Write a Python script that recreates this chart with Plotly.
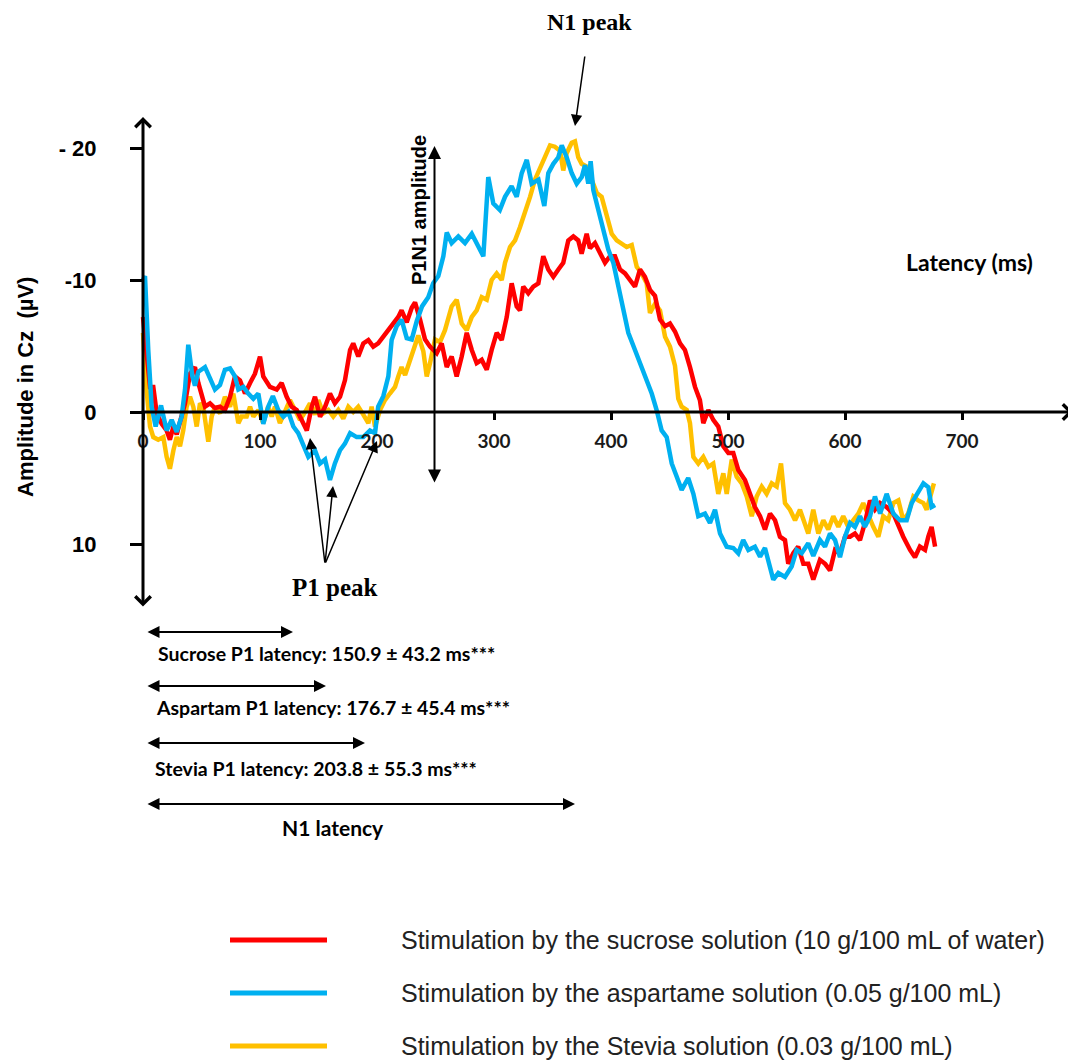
import plotly.graph_objects as go

# ---------------- data ----------------
series_names = [
    "Stimulation by the sucrose solution (10 g/100 mL of water)",
    "Stimulation by the aspartame solution (0.05 g/100 mL)",
    "Stimulation by the Stevia solution (0.03 g/100 mL)",
]
series_colors = ["#FF0000", "#00B0F0", "#FFC000"]

sucrose_t = [0, 3, 6, 8.8, 11.7, 16, 20.2, 23, 26, 28.8, 33, 35.9, 40.2, 44.4, 47.3, 50.1, 53, 57.3, 61.5, 65.8,
             70, 74.4, 78.6, 82.9, 87.2, 91.5, 95.7, 100, 102.8, 108.5, 114.3, 118.5, 122.8, 127, 131.4, 135.6, 140,
             144.2, 147, 151.3, 155.6, 159.8, 164, 168.4, 172.6, 177, 179.7, 184, 188.3, 192.6, 196.8, 201, 205.4,
             209.7, 214, 218.2, 221, 225.4, 229.7, 232.5, 236.8, 241, 245.3, 251, 255.3, 259.6, 263.8, 268.1, 272.4,
             276.7, 281, 285.2, 289.5, 293.8, 298, 302.3, 306.6, 310.9, 315.1, 319.4, 322.2, 325, 329.3, 333.6,
             337.9, 342.1, 346.4, 350.7, 355, 359.2, 363.5, 367.8, 372, 374.9, 379.2, 382, 386.3, 390.6, 394.9,
             399.1, 403.4, 407.7, 412, 416.2, 420.5, 424.8, 429, 433.3, 437.6, 441.9, 446.2, 450.4, 454.7, 459,
             463.2, 467.5, 471.8, 476, 478.9, 483.2, 487.4, 491.7, 496, 500.3, 504.5, 508.8, 514.5, 518.8, 523,
             527.4, 531.6, 535.9, 540.2, 544.4, 548.7, 551.5, 555.8, 560, 564.4, 568.6, 572.9, 578.6, 583, 587.2,
             591.5, 595.7, 600, 604.3, 608.5, 612.8, 617, 621.4, 625.6, 630, 635.6, 641.3, 645.6, 649.8, 655.6,
             659.8, 664, 668.4, 671.2, 674, 677]
sucrose_uv = [-7.2, -4.7, -1.9, -1.9, 0.1, 0.9, 1.4, 2.1, 1.1, 1.7, 0.35, -0.65, -2.9, -3.4, -2.2, -1.4, -0.4, -0.65,
              -0.3, -0.4, -0.15, -1.15, -2.7, -2.4, -1.4, -2.2, -2.9, -4.2, -2.7, -1.9, -1.7, -2.2, -1.15, -0.4,
              -0.15, 0.6, 1.4, -0.4, -1.15, 0.35, -0.4, -1.4, -0.65, -1.15, -2.4, -4.7, -5.2, -4.2, -5.2, -5.45,
              -4.95, -5.2, -5.7, -6.2, -6.7, -7.2, -7.7, -6.8, -7.9, -8.3, -7.0, -5.5, -4.95, -4.45, -5.2, -3.4,
              -4.2, -2.7, -4.2, -6.0, -4.7, -3.7, -3.95, -3.2, -4.7, -6.0, -5.45, -7.2, -9.75, -8.0, -7.7, -9.5,
              -9.0, -9.5, -9.75, -11.8, -10.8, -10.25, -10.8, -11.3, -13.0, -13.3, -13.0, -12.0, -13.5, -12.4,
              -12.8, -12.0, -11.3, -11.8, -11.8, -10.8, -10.5, -10.0, -9.5, -10.8, -10.25, -9.25, -8.8, -7.0, -6.5,
              -6.7, -6.1, -5.2, -4.7, -3.4, -1.9, -0.9, 0.85, -0.15, 0.6, 1.1, 2.6, 3.1, 3.1, 4.4, 5.15, 6.2, 7.2,
              7.9, 8.9, 7.7, 8.2, 9.45, 9.7, 11.5, 10.7, 10.2, 11.5, 11.5, 12.7, 11.2, 11.5, 12.0, 10.45, 10.7,
              9.45, 9.45, 9.2, 9.7, 8.4, 6.7, 7.4, 6.9, 7.2, 7.7, 8.7, 9.45, 10.45, 11.0, 10.2, 10.45, 9.45, 8.7,
              10.2]

aspartame_t = [0, 1.7, 4.5, 7.4, 10.8, 15.4, 20.2, 24.5, 28.8, 33, 35.9, 38.7, 42.2, 44.4, 47.3, 53, 57.3, 61.5,
               65.8, 70, 74.4, 78.6, 81.5, 85.8, 90, 94.3, 98.6, 102.8, 107, 111, 115.6, 120, 124.2, 128.5, 132.7,
               137, 141.3, 147, 151.3, 155.6, 159.8, 164, 168.4, 172.6, 177, 182.6, 188.3, 194, 198.3, 201, 205.4,
               209.7, 212.5, 216.8, 221, 225.4, 229.7, 234, 238.5, 243.8, 248, 252.4, 256.7, 259.6, 263.8, 269.5,
               275.2, 281, 285.2, 290.9, 295.1, 299.4, 305, 309.4, 315, 319.4, 323.7, 328, 332.2, 338, 343, 346.4,
               350.7, 355, 357.9, 362.1, 366.4, 370.7, 375, 377.8, 380.6, 382.6, 384.9, 389.2, 393.4, 397.7, 402,
               406.3, 410.5, 414.8, 420.5, 424.8, 430.5, 434.8, 439, 443.3, 447.6, 451.9, 456.2, 460.4, 466, 470.4,
               474.6, 480.3, 484.6, 488.9, 493.2, 498.9, 504.5, 508.8, 513, 517.4, 523, 527.4, 531.6, 535.9, 538.7,
               543, 548.7, 554.4, 558.7, 563, 568.6, 572.9, 578.6, 582.9, 587.2, 591.5, 595.7, 600, 604.3, 608.5,
               612.8, 617, 621.4, 625.6, 630, 635.6, 641.3, 647, 652.7, 657, 661.3, 667, 671.2, 674, 677]
aspartame_uv = [-10.0, -10.3, -4.7, -0.4, 1.1, -0.5, 1.4, 0.6, 1.5, 0.35, -1.7, -5.1, -2.7, -2.0, -3.05, -3.4, -2.55,
                -1.7, -2.05, -3.2, -3.3, -2.7, -1.7, -1.9, -1.4, -1.0, -1.4, 0.9, -0.4, -1.2, -0.15, 0.35, 0, 1.1,
                1.6, 2.6, 3.4, 2.9, 3.9, 3.6, 5.15, 3.9, 2.9, 2.4, 1.6, 1.9, 1.9, 1.4, 1.6, -0.4, -1.2, -2.7, -5.45,
                -6.5, -7.0, -5.6, -5.5, -6.9, -8.0, -8.7, -9.75, -10.3, -11.8, -13.6, -12.8, -13.3, -12.8, -13.5,
                -12.8, -11.8, -17.8, -15.8, -15.3, -16.3, -17.1, -16.3, -18.1, -19.1, -17.3, -17.6, -15.6, -18.1,
                -18.8, -19.3, -20.2, -19.3, -18.1, -17.3, -17.8, -18.7, -17.3, -19.0, -16.8, -15.3, -14.0, -12.3,
                -11.3, -9.5, -7.7, -6.0, -4.7, -3.7, -2.4, -1.4, -0.15, 1.4, 1.9, 3.9, 4.9, 5.9, 5.0, 6.2, 7.9, 7.7,
                8.4, 7.4, 9.2, 10.2, 10.3, 10.7, 9.7, 10.45, 10.2, 10.96, 10.3, 11.7, 12.7, 12.2, 12.5, 11.7, 10.45,
                10.7, 9.95, 10.9, 9.7, 10.2, 9.2, 9.7, 11.0, 9.45, 8.4, 8.7, 7.9, 8.7, 7.9, 6.4, 7.7, 6.2, 7.7, 8.2,
                8.2, 6.9, 6.2, 5.4, 5.7, 7.2, 7.05]

stevia_t = [0, 3, 6, 8.8, 13, 17.4, 20.2, 23, 26, 28.8, 31.6, 34.4, 37.3, 40.2, 43, 45.9, 48.7, 51.5, 54.4, 55.8,
            58.7, 61.5, 65.8, 70, 74.4, 77.2, 81.5, 84.3, 88.6, 91.5, 94.3, 98.6, 102.8, 107, 110, 112.8, 117,
            121.4, 125.6, 129.9, 134.2, 138.5, 142.7, 147, 149.8, 154.1, 158.4, 162.6, 166.9, 171.2, 175.5, 179.7,
            184, 188.3, 192.6, 195.4, 198.3, 202.6, 206.8, 211, 215.4, 218.2, 221, 224, 228.2, 232.5, 235.3, 239.6,
            242.5, 245.3, 249.6, 253.8, 258.1, 263.8, 268.1, 272.4, 276.7, 281, 285.2, 289.5, 293.8, 298, 302.3,
            306.6, 309.4, 313.7, 318, 322.2, 326.5, 330.8, 335, 339.3, 343.6, 347.9, 352, 356.4, 359.2, 362.1,
            366.4, 369.2, 372, 374.9, 379.2, 383.5, 387.8, 392, 396.3, 400.6, 404.9, 409.1, 413.4, 417.7, 422,
            426.2, 430.5, 433.3, 437.6, 441.9, 446.2, 450.4, 454.7, 457.5, 460.4, 464.7, 467.5, 470.4, 474.6,
            478.9, 483.2, 487.4, 491.7, 496, 498.9, 503.2, 507.4, 511.7, 516, 520.3, 524.5, 528.8, 533, 537.4,
            541.6, 545.3, 548.7, 553, 557.3, 561.5, 565.8, 568.6, 572.9, 577.2, 581.5, 585.7, 590, 594.3, 598.5,
            602.8, 607, 611.4, 615.6, 620, 624.2, 628.5, 632.7, 637, 641.3, 645.6, 649.8, 654, 658.4, 662.6, 667,
            669.8, 672.6, 676]
stevia_uv = [-6.0, -1.7, 1.1, 1.9, 2.1, 1.9, 3.4, 4.3, 2.9, 1.9, 2.6, 1.4, -0.4, -1.15, -0.4, 1.1, -0.65, -0.4, 1.4,
             2.25, 0.35, -0.4, 0.1, -1.15, -0.4, -1.4, 0.85, 0.35, 0.35, -0.4, 0.35, -0.15, 0.85, -0.4, 0.35, -0.4,
             0.85, -0.15, -0.9, -0.15, 0.6, 0, -0.65, 0.2, -0.9, 0.1, -0.15, 0.35, -0.15, 0.5, -0.4, 0, -0.4, 0.2,
             0.85, -0.4, 1.1, -0.15, -0.9, -1.4, -1.9, -2.7, -3.4, -2.8, -3.9, -5.0, -5.8, -4.6, -2.7, -3.7, -5.5,
             -5.3, -6.2, -8.0, -8.5, -6.7, -6.2, -7.2, -7.7, -8.7, -8.5, -10.0, -10.5, -10.0, -11.3, -12.5, -13.0,
             -14.0, -15.05, -16.3, -17.6, -18.5, -19.5, -20.2, -20.1, -19.8, -18.3, -19.6, -20.4, -20.5, -19.3,
             -18.8, -18.6, -17.6, -16.6, -16.3, -14.8, -13.5, -13.0, -12.8, -12.5, -12.65, -11.0, -10.5, -9.75,
             -7.5, -8.2, -7.7, -5.7, -4.95, -3.5, -1.0, -0.4, -0.15, 0.85, 3.4, 3.9, 3.4, 4.15, 3.9, 6.2, 4.65,
             6.2, 3.6, 4.9, 5.4, 6.4, 7.9, 6.4, 5.65, 6.2, 5.4, 5.65, 3.9, 6.9, 7.4, 8.2, 7.4, 8.4, 9.2, 7.4, 9.2,
             8.2, 8.9, 7.9, 8.7, 7.9, 8.7, 8.2, 7.7, 6.9, 7.9, 8.7, 9.45, 7.9, 8.2, 6.9, 6.7, 8.2, 7.7, 6.4, 6.7,
             6.9, 7.4, 6.4, 5.4]

x_tick_values = [0, 100, 200, 300, 400, 500, 600, 700]
x_tick_labels = ["0", "100", "200", "300", "400", "500", "600", "700"]
y_tick_values = [-20, -10, 0, 10]
y_tick_labels = ["- 20", "-10", "0", "10"]

latency_labels = [
    "Sucrose P1 latency: 150.9 \u00b1 43.2 ms***",
    "Aspartam P1 latency: 176.7 \u00b1 45.4 ms***",
    "Stevia P1 latency: 203.8 \u00b1 55.3 ms***",
]

# ---------------- geometry ----------------
VIEW_W, VIEW_H = 1076, 1061
OFF = 8                                  # page body margin
W, H = VIEW_W - OFF, VIEW_H - OFF        # figure size
X0_PX, PX_PER_MS = 143.0, 1.17           # page pixel of 0 ms, pixels per ms
Y0_PX, PX_PER_UV = 412.0, 13.2           # page pixel of 0 uV, pixels per uV (negative up)


def xd(px):
    return (px - X0_PX) / PX_PER_MS


def yd(py):
    return (py - Y0_PX) / PX_PER_UV


def xp(px):
    return (px - OFF) / W


def yp(py):
    return 1 - (py - OFF) / H


fig = go.Figure()
order = [2, 0, 1]
data_t = [sucrose_t, aspartame_t, stevia_t]
data_v = [sucrose_uv, aspartame_uv, stevia_uv]
for i in order:
    fig.add_trace(go.Scatter(x=data_t[i], y=data_v[i], mode="lines", name=series_names[i],
                             line=dict(color=series_colors[i], width=4.5), showlegend=False,
                             hoverinfo="skip"))

anns = []


def arrow(hx, hy, tx, ty, width, head, size, both=False):
    d = dict(x=xd(hx), y=yd(hy), ax=xd(tx), ay=yd(ty), xref="x", yref="y", axref="x", ayref="y",
             text="", showarrow=True, arrowhead=head, arrowsize=size, arrowwidth=width,
             arrowcolor="black", standoff=0, startstandoff=0)
    if both:
        d.update(arrowside="end+start", startarrowhead=head, startarrowsize=size)
    anns.append(d)


def label(px, py, text, size, family, xanchor="center", angle=0, color="black"):
    anns.append(dict(x=xp(px), y=yp(py), xref="paper", yref="paper", text=text, showarrow=False,
                     xanchor=xanchor, yanchor="middle", textangle=angle,
                     font=dict(size=size, family=family, color=color)))


# main axes (arrows)
arrow(1073, 412, 140, 412, 3, 4, 1.0)
arrow(143, 117, 143, 608, 3, 4, 1.0, both=True)
# P1N1 amplitude arrow
arrow(434.5, 146, 434.5, 484, 2, 2, 1.3, both=True)
# N1 peak arrow
arrow(575, 126, 585, 55, 1.5, 2, 1.5)
# P1 peak arrows
for hx, hy in [(310, 438), (333, 486), (377, 441)]:
    arrow(hx, hy, 325, 564, 1.5, 2, 1.5)
# latency arrows
for end_px, py in [(293, 632), (326, 686), (365, 743), (575, 804)]:
    arrow(end_px, py, 146, py, 2, 2, 1.2, both=True)

SANS = "Liberation Sans"
CAL = "Lato"
SERIF = "Liberation Serif"

label(25, 387, "<b>Amplitude in Cz\u00a0 (\u00b5V)</b>", 22, SANS, angle=-90)
label(419, 210, "<b>P1N1 amplitude</b>", 20, SANS, angle=-90)
label(969, 262, "<b>Latency (ms)</b>", 23, CAL)
label(589, 22, "<b>N1 peak</b>", 24, SERIF)
label(335, 587, "<b>P1 peak</b>", 25, SERIF)
for (lx, ly), txt in zip([(156, 653), (154, 707), (153, 768)], latency_labels):
    label(lx, ly, "<b>" + txt + "</b>", 19.5, CAL, xanchor="left")
label(333, 827, "<b>N1 latency</b>", 21, CAL)

# custom legend
shapes = []
for k, py in enumerate([940, 993, 1046]):
    shapes.append(dict(type="line", xref="paper", yref="paper", x0=xp(230), x1=xp(327), y0=yp(py), y1=yp(py),
                       line=dict(color=series_colors[k], width=5)))
    label(399, py, series_names[k], 25, SANS, xanchor="left", color="#222222")

fig.update_layout(
    width=W, height=H, autosize=False,
    margin=dict(l=0, r=0, t=0, b=0),
    paper_bgcolor="white", plot_bgcolor="white",
    showlegend=False,
    annotations=anns, shapes=shapes,
    xaxis=dict(range=[xd(OFF), xd(OFF + W)], domain=[0, 1], anchor="free", position=yp(Y0_PX),
               showgrid=False, zeroline=False, showline=False,
               tickmode="array", tickvals=x_tick_values, ticktext=["<b>%s</b>" % t for t in x_tick_labels],
               ticks="outside", ticklen=7, tickwidth=3, tickcolor="black",
               tickfont=dict(family=CAL, size=19, color="#1a1a1a"), ticklabelstandoff=5),
    yaxis=dict(range=[yd(OFF + H), yd(OFF)], domain=[0, 1], anchor="free", position=xp(X0_PX),
               showgrid=False, zeroline=False, showline=False,
               tickmode="array", tickvals=y_tick_values, ticktext=["<b>%s</b>" % t for t in y_tick_labels],
               ticks="outside", ticklen=13, tickwidth=3, tickcolor="black",
               tickfont=dict(family=SANS, size=22, color="black"), ticklabelstandoff=29),
)

fig.write_html("out.html")
